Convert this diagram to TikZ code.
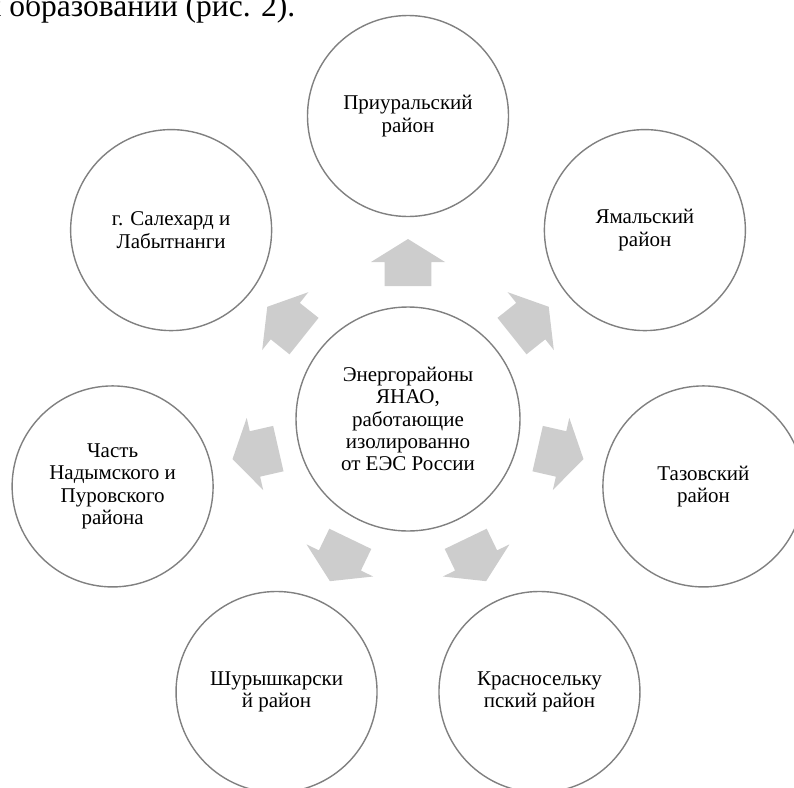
\documentclass[tikz,border=0pt]{standalone}
\usepackage{fontspec}
\setmainfont{Liberation Serif}
\usetikzlibrary{calc}
\definecolor{circgray}{RGB}{128,128,128}
\definecolor{arrowgray}{RGB}{205,205,205}
\begin{document}
\begin{tikzpicture}[x=1pt,y=-1pt,
  outer/.style={circle, draw=circgray, line width=1.4pt, fill=white, inner sep=0pt,
    minimum size=201pt, align=center, font=\fontsize{21}{22.4}\selectfont},
  ctr/.style={circle, draw=circgray, line width=1.4pt, fill=white, inner sep=0pt,
    minimum size=224pt, align=center, font=\fontsize{21}{22.4}\selectfont},
  blockarrow/.style={fill=arrowgray}]
\useasboundingbox (0,0) rectangle (794,787);
\clip (0,0) rectangle (794,787);
\node[anchor=base east, inner sep=0pt, font=\fontsize{31.5}{37}\selectfont] (top) at (295.5,16.5) {х образований (рис. 2).};
\node[ctr] (c) at (408,419) {Энергорайоны\\ЯНАО,\\работающие\\изолированно\\от ЕЭС России};
\node[outer] (o0) at ($(c)+(90:303pt)$) {Приуральский\\район};
\node[outer] (o1) at ($(c)+(38.5714:303pt)$) {Ямальский\\район};
\node[outer] (o2) at ($(c)+(-12.8571:303pt)$) {Тазовский\\район};
\node[outer] (o3) at ($(c)+(-64.2857:303pt)$) {Красносельку\\пский район};
\node[outer] (o4) at ($(c)+(-115.7143:303pt)$) {Шурышкарски\\й район};
\node[outer] (o5) at ($(c)+(-167.1429:303pt)$) {Часть\\Надымского и\\Пуровского\\района};
\node[outer] (o6) at ($(c)+(141.4286:303pt)$) {г. Салехард и\\Лабытнанги};
\foreach \a in {90,38.5714,-12.8571,-64.2857,-115.7143,-167.1429,141.4286}{
  \fill[blockarrow, shift={(c)}, rotate=\a]
    (133,-23.3) -- (157,-23.3) -- (157,-37) -- (180,0) -- (157,37) -- (157,23.3) -- (133,23.3) -- cycle;
}
\end{tikzpicture}
\end{document}
